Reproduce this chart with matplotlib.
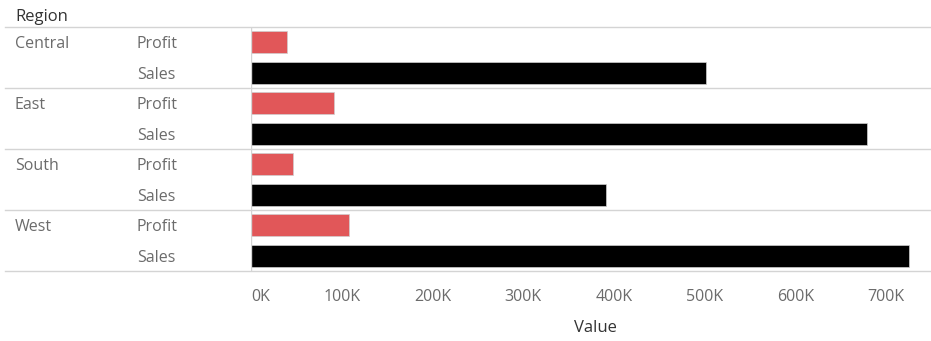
import matplotlib.pyplot as plt
from matplotlib.transforms import blended_transform_factory

plt.rcParams['font.family'] = ['Open Sans', 'DejaVu Sans']

regions = ["Central", "East", "South", "West"]
measures = ["Profit", "Sales"]
profit = [39706, 91523, 46749, 108418]
sales = [501240, 678781, 391722, 725458]
tick_vals = [0, 100000, 200000, 300000, 400000, 500000, 600000, 700000]
tick_labels = ["0K", "100K", "200K", "300K", "400K", "500K", "600K", "700K"]

W, H = 931, 341
fig = plt.figure(figsize=(W / 100, H / 100), dpi=100)

left, right, top, bottom = 251, 925, 27, 271
ax = fig.add_axes([left / W, 1 - bottom / H, (right - left) / W, (bottom - top) / H])

# interleave profit/sales rows per region
ypos, vals, cols = [], [], []
for i in range(len(regions)):
    ypos += [2 * i, 2 * i + 1]
    vals += [profit[i], sales[i]]
    cols += ["#e15759", "#000000"]
ax.barh(ypos, vals, height=0.72, color=cols, edgecolor="#cfcfcf", linewidth=0.5)

ax.set_ylim(len(ypos) - 0.5, -0.5)
ax.set_xlim(0, (right - left) / 90.7 * 100000)
ax.set_yticks([])
for s in ax.spines.values():
    s.set_visible(False)

ax.set_xticks(tick_vals)
ax.set_xticklabels(tick_labels, color="#6b6b6b", fontsize=11.5)
ax.tick_params(axis="x", length=0, pad=13)
lbls = ax.get_xticklabels()
lbls[0].set_ha("left")

# vertical axis line at zero
ax.axvline(0, color="#d4d4d4", lw=1)

# row labels
tr = blended_transform_factory(fig.transFigure, ax.transData)
for i, r in enumerate(regions):
    ax.text(15 / W, 2 * i, r, transform=tr, va="center_baseline", ha="left",
            fontsize=11.5, color="#6b6b6b", clip_on=False)
    for j, m in enumerate(measures):
        ax.text(137 / W, 2 * i + j, m, transform=tr, va="center_baseline", ha="left",
                fontsize=11.5, color="#6b6b6b", clip_on=False)

# separators between panes
for k in range(len(regions) + 1):
    y = 1 - (top + k * (bottom - top) / len(regions)) / H
    fig.add_artist(plt.Line2D([5 / W, 1], [y, y], transform=fig.transFigure,
                              color="#d4d4d4", lw=1))

fig.text(15 / W, 1 - 17 / H, "Region", fontsize=12, color="#333333",
         va="center", ha="left")
fig.text(595 / W, 1 - 328 / H, "Value", fontsize=12, color="#333333",
         va="center", ha="center")

fig.savefig("out.png", dpi=100)
